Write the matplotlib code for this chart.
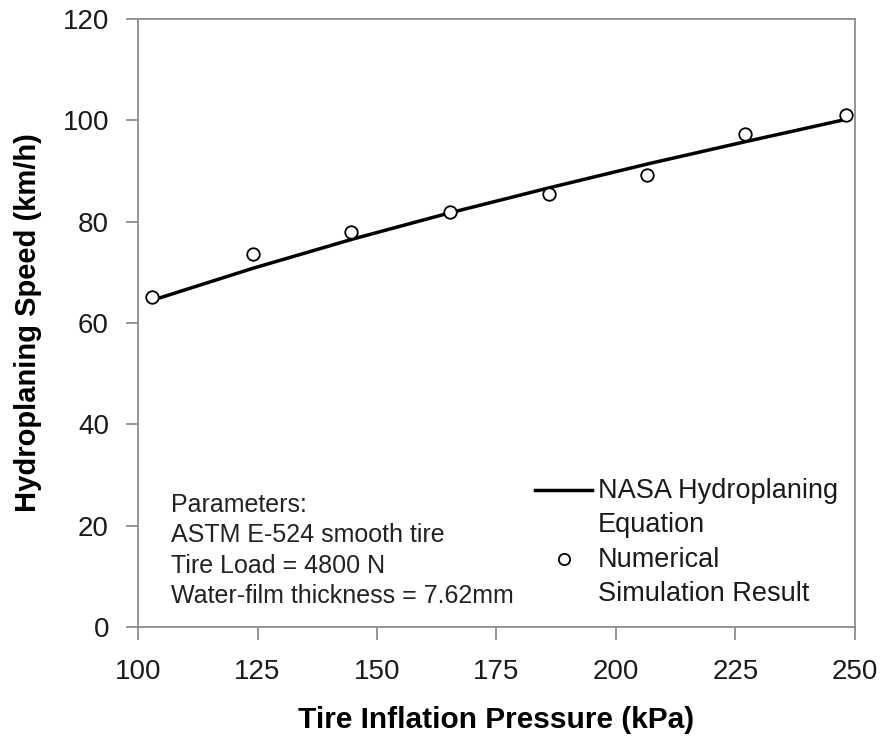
import matplotlib
matplotlib.use("Agg")
import matplotlib.pyplot as plt
from matplotlib.legend_handler import HandlerLine2D

plt.rcParams['font.family'] = ['Liberation Sans', 'DejaVu Sans']

# NASA equation curve
line_p = [103, 124, 145, 165, 186, 207, 227, 248]
line_v = [64.5, 70.8, 76.6, 81.7, 86.7, 91.5, 95.8, 100.2]

# numerical simulation points
sim_p = [103, 124, 144.6, 165.3, 186, 206.5, 227, 248.2]
sim_v = [65.1, 73.6, 78.0, 81.9, 85.5, 89.2, 97.3, 101.0]

params_text = 'Parameters:\nASTM E-524 smooth tire\nTire Load = 4800 N\nWater-film thickness = 7.62mm'


class TopLineHandler(HandlerLine2D):
    # put the legend key next to the first line of a two-line label
    def __init__(self, shift, **kw):
        super().__init__(**kw)
        self.shift = shift

    def create_artists(self, legend, orig_handle, xdescent, ydescent,
                       width, height, fontsize, trans):
        return super().create_artists(legend, orig_handle, xdescent,
                                      ydescent - self.shift, width, height,
                                      fontsize, trans)


fig = plt.figure(figsize=(8.85, 7.4), dpi=100)
ax = fig.add_axes([0.156, 0.153, 0.81, 0.821])

ln, = ax.plot(line_p, line_v, color='black', lw=2.5, label='NASA Hydroplaning\nEquation')
pts, = ax.plot(sim_p, sim_v, 'o', mfc='white', mec='black', ms=9, mew=1.3,
               label='Numerical\nSimulation Result')

ax.set_xlim(100, 250)
ax.set_ylim(0, 120)
ax.set_xticks(range(100, 251, 25))
ax.set_yticks(range(0, 121, 20))
for s in ax.spines.values():
    s.set_color('#8c8c8c')
    s.set_linewidth(1.3)
ax.tick_params(direction='out', length=9, width=1.3, color='#8c8c8c',
               labelsize=20, labelcolor='#1a1a1a', pad=12)
ax.tick_params(axis='x', pad=14)

ax.set_xlabel('Tire Inflation Pressure (kPa)', fontsize=21.5, fontweight='bold', labelpad=15)
ax.set_ylabel('Hydroplaning Speed (km/h)', fontsize=21, fontweight='bold', labelpad=15)

ax.text(0.0456, 0.220, params_text, transform=ax.transAxes, fontsize=18,
        linespacing=1.33, va='top', ha='left', color='#222222')

leg = ax.legend(loc='upper left', bbox_to_anchor=(0.554, 0.245), frameon=False,
                fontsize=19.5, handlelength=2.1, handletextpad=0.22,
                labelspacing=0.35, borderpad=0, borderaxespad=0,
                numpoints=1, markerscale=0.9,
                handler_map={ln: TopLineHandler(27), pts: TopLineHandler(27)})
for t in leg.get_texts():
    t.set_linespacing(1.4)
    t.set_color('#1a1a1a')

fig.savefig('out.png', dpi=100)
